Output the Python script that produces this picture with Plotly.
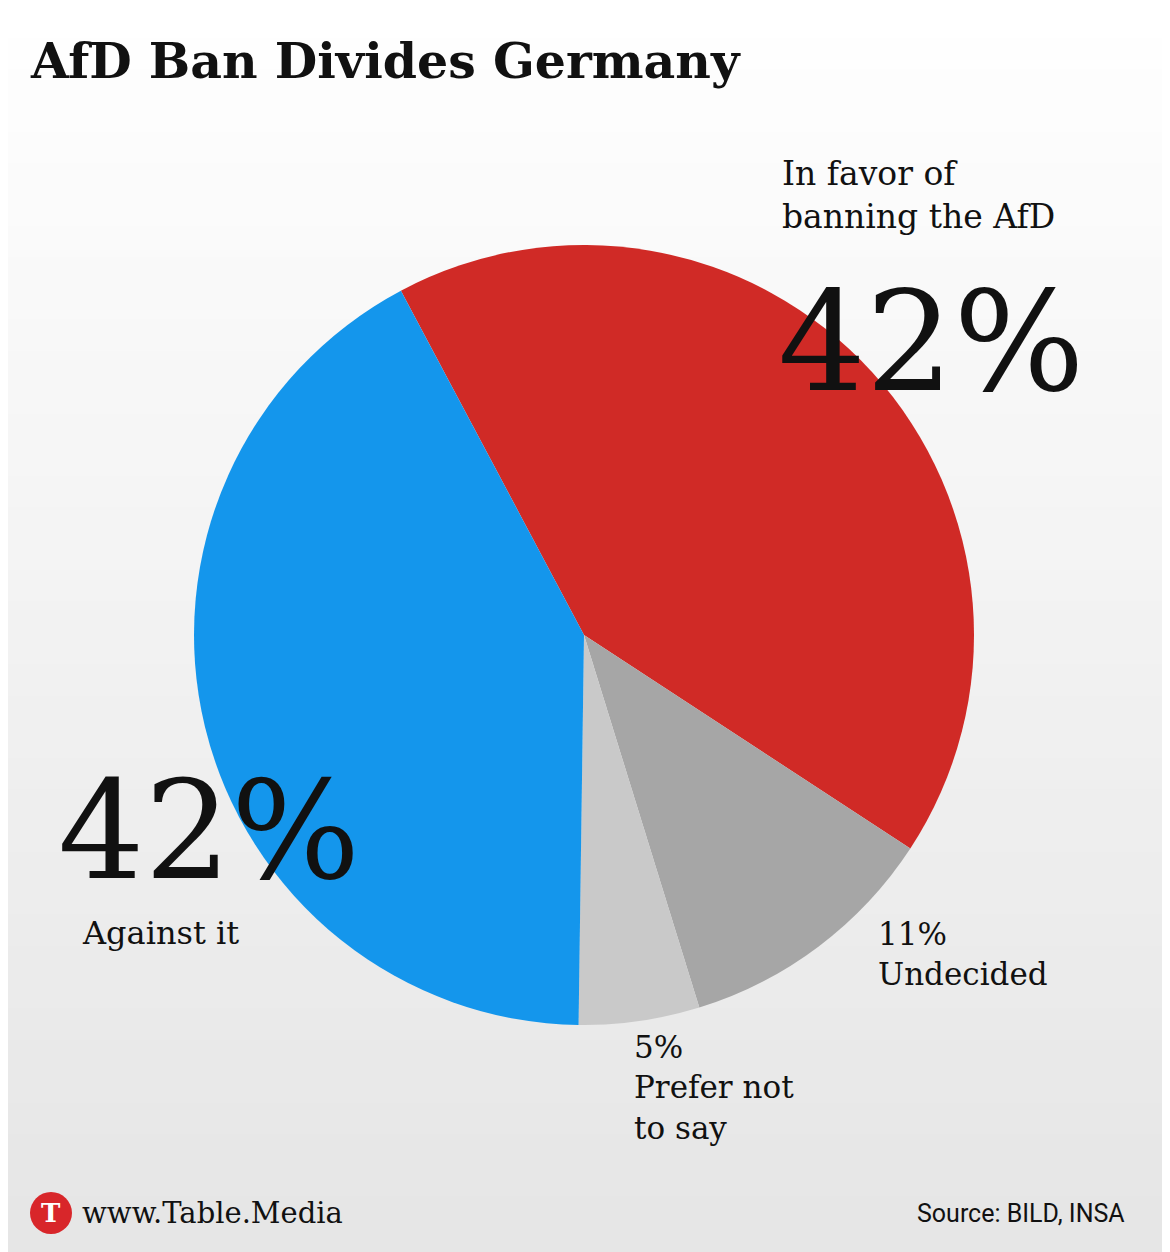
import plotly.graph_objects as go

labels = ["In favor of banning the AfD", "Undecided", "Prefer not to say", "Against it"]
values = [42, 11, 5, 42]
colors = ["#d02a26", "#a6a6a6", "#c9c9c9", "#1496ec"]

W, H = 1170, 1252
DX, DY = -8, -6
fig = go.Figure(go.Pie(
    labels=labels, values=values, sort=False, direction="clockwise", rotation=-28,
    marker=dict(colors=colors, line=dict(width=0)), textinfo="none", hoverinfo="label+percent",
    domain=dict(x=[(193+DX)/W, (975+DX)/W], y=[(H-1023-DY)/H, (H-243-DY)/H]), showlegend=False))

shapes = []
n = 40
for i in range(n):
    t = i / (n - 1)
    c = int(255 - 25 * t)
    shapes.append(dict(type="rect", xref="paper", yref="paper", layer="below", line=dict(width=0),
                       x0=-0.02, x1=1.02, y0=1 - (i + 1) / n, y1=1 - i / n + 0.001,
                       fillcolor=f"rgb({c},{c},{c})"))
shapes.append(dict(type="circle", xref="paper", yref="paper", x0=(30+DX)/W, x1=(72+DX)/W,
                   y0=1-(1232+DY)/H, y1=1-(1190+DY)/H, fillcolor="#d8262a", line=dict(width=0)))

serif = "DejaVu Serif"
def ann(x, y, text, size, family=serif, color="#111", xanchor="left", yanchor="top"):
    return dict(x=(x+DX)/W, y=1-(y+DY)/H, xref="paper", yref="paper", text=text, showarrow=False,
                xanchor=xanchor, yanchor=yanchor, align="left",
                font=dict(family=family, size=size, color=color))

annotations = [
    ann(28, 28, "<b>AfD Ban Divides Germany</b>", 49),
    ann(780, 150, "In favor of<br>banning the AfD", 33),
    ann(776, 258, "42%", 138),
    ann(56, 748, "42%", 136),
    ann(80, 910, "Against it", 32),
    ann(876, 912, "11%<br>Undecided", 31),
    ann(632, 1025, "5%<br>Prefer not<br>to say", 31),
    ann(51, 1211, "<b>T</b>", 26, color="white", xanchor="center", yanchor="middle"),
    ann(80, 1211, "www.Table.Media", 29, yanchor="middle"),
    ann(1127, 1211, "Source: BILD, INSA", 25, family="Roboto", xanchor="right", yanchor="middle"),
]

fig.update_layout(width=W, height=H, margin=dict(l=0, r=0, t=0, b=0),
                  paper_bgcolor="white", plot_bgcolor="white",
                  shapes=shapes, annotations=annotations)
fig.write_html("out.html")
